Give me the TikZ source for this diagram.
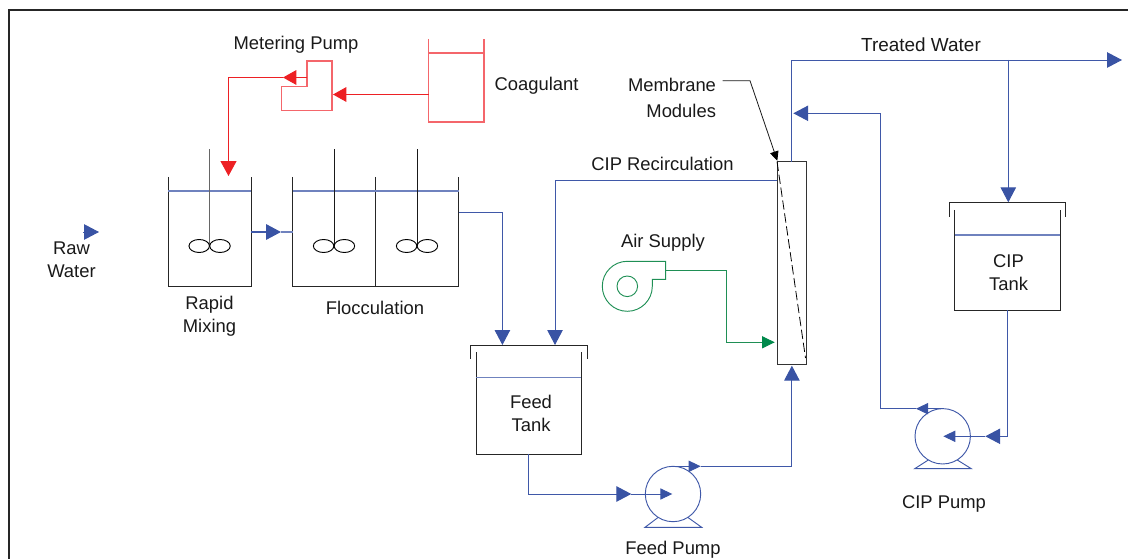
\documentclass[tikz,border=0pt]{standalone}
\usepackage{fontspec}
\setmainfont{Liberation Sans}
\usetikzlibrary{arrows.meta,shapes.geometric}
\def\pxu{0.75pt}
\definecolor{pipeblue}{HTML}{3F58A8}
\definecolor{headblue}{HTML}{3953A4}
\definecolor{pipered}{HTML}{ED2024}
\definecolor{softred}{HTML}{F4666B}
\definecolor{pipegreen}{HTML}{1F8F55}
\definecolor{headgreen}{HTML}{00894B}
\tikzset{
  vessel/.style={inner sep=0pt,outer sep=0pt,minimum width=#1*\pxu},
  outline/.style={draw=black!85,line width=0.75pt},
  water/.style={draw=pipeblue!75,line width=0.8pt},
  bluepipe/.style={draw=pipeblue,line width=0.7pt},
  redpipe/.style={draw=pipered,line width=0.7pt},
  softredline/.style={draw=softred,line width=0.85pt},
  greenpipe/.style={draw=pipegreen,line width=0.7pt},
  bigblue/.style={bluepipe,-{Triangle[length=11.2pt,width=11.6pt,color=headblue]}},
  smallblue/.style={bluepipe,-{Triangle[length=9pt,width=8.4pt,color=headblue]}},
  bigred/.style={redpipe,-{Triangle[length=11.2pt,width=12pt,color=pipered]}},
  midred/.style={redpipe,-{Triangle[length=10pt,width=11pt,color=pipered]}},
  biggreen/.style={greenpipe,-{Triangle[length=9.4pt,width=9pt,color=headgreen]}},
  leader/.style={draw=black!90,line width=0.6pt,-{Triangle[length=7pt,width=6.5pt,color=black]}},
  label/.style={inner sep=0pt,align=center,font=\fontsize{13.8}{17.2}\selectfont,text=black!90},
  blade/.style={ellipse,draw=black,line width=0.7pt,inner sep=0pt,minimum width=20.5*\pxu,minimum height=13*\pxu},
  shaft/.style={draw=black!90,line width=0.7pt},
  pumpcase/.style={circle,draw=pipeblue,line width=0.7pt,inner sep=0pt,minimum size=55.4*\pxu},
}
\begin{document}
\begin{tikzpicture}[x=0.75pt,y=-0.75pt]
\useasboundingbox (0,0) rectangle (1128,559);
% frame (left and top only)
\draw[black!85,line width=1.5pt] (8.5,559) -- (8.5,10) -- (1128,10);

% ---- named parts ----
\node[vessel=83,minimum height=110*\pxu] (rapid) at (209.5,232) {};
\node[vessel=83,minimum height=110*\pxu] (flocA) at (334,232) {};
\node[vessel=83,minimum height=110*\pxu] (flocB) at (417,232) {};
\node[vessel=55.5,minimum height=83*\pxu] (coag) at (456.25,80.5) {};
\node[vessel=105.3,minimum height=101.7*\pxu] (feedtank) at (528.65,403.15) {};
\node[vessel=105.6,minimum height=100.3*\pxu] (ciptank) at (1007.5,260.15) {};
\node[vessel=29.7,minimum height=202.7*\pxu,draw=black!80,line width=0.8pt] (module) at (791.9,263) {};
\node[pumpcase] (feedpump) at (673,494) {};
\node[pumpcase] (cippump) at (942.7,436.3) {};
\node[circle,draw=pipegreen,line width=0.7pt,inner sep=0pt,minimum size=20.6*\pxu] (blowereye) at (627.3,286.3) {};

\coordinate (mp1) at (307,61);
\coordinate (mp2) at (332,61);
\coordinate (mp3) at (332,110.5);
\coordinate (mp4) at (281.5,110.5);
\coordinate (mp5) at (281.5,86.5);
\coordinate (mp6) at (307,86.5);

% ---- tanks ----
\draw[outline] (rapid.north west) -- (rapid.south west) -- (rapid.south east) -- (rapid.north east);
\draw[outline] (flocA.north west) -- (flocA.south west) -- (flocB.south east) -- (flocB.north east);
\draw[outline] (flocA.north east) -- (flocA.south east);
\draw[water] (168,191) -- (251,191);
\draw[water] (292.5,191) -- (458.5,191);

\draw[shaft,draw=black!60] (209.5,149.5) -- (209.5,246);
\draw[shaft] (334,149.5) -- (334,246);
\draw[shaft] (417,149.5) -- (417,246);
\node[blade] (b1) at (199.2,246) {};
\node[blade] (b2) at (220,246) {};
\node[blade] (b3) at (323.6,246) {};
\node[blade] (b4) at (344.4,246) {};
\node[blade] (b5) at (406.6,246) {};
\node[blade] (b6) at (427.4,246) {};

\draw[softredline] (428.5,39) -- (coag.south west) -- (coag.south east) -- (484,39);
\draw[softredline] (428.5,53) -- (484,53);
\draw[softredline] (mp1) -- (mp2) -- (mp3) -- (mp4) -- (mp5) -- (mp6) -- cycle;

\draw[outline] (feedtank.north west) -- (feedtank.south west) -- (feedtank.south east) -- (feedtank.north east);
\draw[outline] (470.7,358.7) -- (470.7,345.3) -- (587,345.3) -- (587,358.7);
\draw[water] (476,377.7) -- (581.3,377.7);

\draw[outline] (ciptank.north west) -- (ciptank.south west) -- (ciptank.south east) -- (ciptank.north east);
\draw[outline] (949.7,216.7) -- (949.7,202.7) -- (1065.7,202.7) -- (1065.7,216.7);
\draw[water] (954.7,235) -- (1060.3,235);

% membrane diagonal
\draw[black,line width=0.6pt,dash pattern=on 7pt off 2.8pt] (module.north west) -- (805.5,358);

% pump feet
\draw[bluepipe] (658.3,517.3) -- (645,527.3) -- (701.7,527.3) -- (687.7,517.3);
\draw[bluepipe] (928.3,460) -- (914.7,468.7) -- (971.3,468.7) -- (957.3,460);

% blower casing
\draw[greenpipe] (652.3,279.3) -- (652.3,286.3)
  .. controls (652.3,300.1) and (641.1,311.3) .. (627.3,311.3)
  .. controls (613.5,311.3) and (602.3,300.1) .. (602.3,286.3)
  .. controls (602.3,272.5) and (613.5,261.3) .. (627.3,261.3)
  -- (665.7,261.3) -- (665.7,279.3) -- cycle;

% ---- coordinates of the connectors ----
\coordinate (rawtail) at (83,232);
\coordinate (rawtip) at (99,232);
\coordinate (rapidout) at (251,232);
\coordinate (rapidtip) at (281,232);
\coordinate (flocin) at (292.5,232);
\coordinate (flocout) at (458.5,212.6);
\coordinate (feedinA) at (502.4,345);
\coordinate (feedinB) at (555,345);
\coordinate (cipback) at (777,180.6);
\coordinate (feedout) at (528.6,454);
\coordinate (fpt1) at (631.3,494);
\coordinate (fpt2) at (672.3,494);
\coordinate (fpo) at (673,466.3);
\coordinate (fpo2) at (700.7,466.3);
\coordinate (modin) at (791.9,365.7);
\coordinate (modtop) at (791.9,161.7);
\coordinate (trj) at (1008.3,60);
\coordinate (trtip) at (1122,60);
\coordinate (ciptin) at (1008.3,202.3);
\coordinate (ret) at (793.3,113.3);
\coordinate (cpo) at (942.7,408.7);
\coordinate (cpot) at (916,408.7);
\coordinate (ctout) at (1007.7,310.3);
\coordinate (cpt1) at (985.3,436.3);
\coordinate (cpt2) at (943.3,436.3);
\coordinate (blowout) at (665.7,270);
\coordinate (airtip) at (774.7,342.3);
\coordinate (lead1) at (722.7,80.7);
\coordinate (lead2) at (750,80.7);
\coordinate (leadtip) at (777.3,160.7);
\coordinate (coagout) at (428.5,94.5);
\coordinate (mpin) at (333,94.5);
\coordinate (mpout) at (307,77.5);
\coordinate (mpt) at (283,77.5);
\coordinate (rapidin) at (228.5,176);

% ---- connectors ----
\draw[midred] (coagout) -- (mpin);
\draw[midred] (mpout) -- (mpt);
\draw[bigred] (mpt) -| (rapidin);

\draw[bigblue] (rawtail) -- (rawtip);
\draw[bigblue,line width=1.2pt] (rapidout) -- (rapidtip);
\draw[water] (rapidtip) -- (flocin);
\draw[bigblue] (flocout) -| (feedinA);
\draw[bigblue] (cipback) -| (feedinB);
\draw[bigblue] (feedout) |- (fpt1);
\draw[smallblue] (fpt1) -- (fpt2);
\draw[smallblue] (fpo) -- (fpo2);
\draw[bigblue] (fpo2) -| (modin);
\draw[bigblue] (modtop) |- (trtip);
\draw[bigblue] (trj) -- (ciptin);
\draw[bigblue] (cpot) -| (880.7,113.3) -- (ret);
\draw[smallblue] (cpo) -- (cpot);
\draw[bigblue] (ctout) |- (cpt1);
\draw[smallblue] (cpt1) -- (cpt2);
\draw[biggreen] (blowout) -| (726.7,342.3) -- (airtip);
\draw[leader] (lead1) -- (lead2) -- (leadtip);

% ---- labels ----
\node[label] (tMP) at (296,45) {Metering Pump};
\node[label] (tCo) at (536.5,86) {Coagulant};
\node[label] (tRW) at (71.5,259.5) {Raw\\Water};
\node[label] (tRM) at (209.5,316.5) {Rapid\\Mixing};
\node[label] (tFl) at (375,308) {Flocculation};
\node[label,align=right] (tMM) at (672,98) {Membrane\\[2.2pt]Modules};
\node[label] (tCR) at (662.5,164) {CIP Recirculation};
\node[label] (tAS) at (663,243) {Air Supply};
\node[label] (tFT) at (531,413) {Feed\\Tank};
\node[label] (tFP) at (673,550) {Feed Pump};
\node[label,font=\fontsize{14.2}{17.2}\selectfont] (tTW) at (921,45) {Treated Water};
\node[label] (tCT) at (1008.5,273) {CIP\\Tank};
\node[label] (tCP) at (944,504) {CIP Pump};
\end{tikzpicture}
\end{document}
